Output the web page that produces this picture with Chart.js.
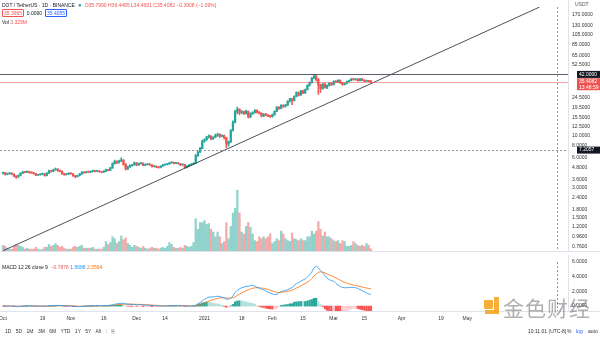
<!DOCTYPE html>
<html><head><meta charset="utf-8">
<script src="https://cdn.jsdelivr.net/npm/chart.js@4.4.1/dist/chart.umd.min.js"></script>
<style>
html,body{margin:0;padding:0;background:#fff;}
body{width:600px;height:337px;overflow:hidden;position:relative;font-family:'Liberation Sans',Arial,sans-serif;color:#131722;}
canvas{position:absolute;left:0;}
.t{position:absolute;white-space:nowrap;font-size:5px;line-height:6px;}
.box{border:0.6px solid;padding:0 1px;border-radius:1px;}
</style></head><body>
<canvas id="c1" width="600" height="259" style="top:0"></canvas>
<canvas id="c2" width="600" height="71" style="top:255px"></canvas>

<div class="t" style="left:2px;top:2px;">DOT / TetherUS · 1D · BINANCE <span style="color:#26a69a;font-size:6px;">&nbsp;●&nbsp;</span> <span style="color:#ef5350">O35.7990 H36.4495 L34.4691 C35.4082 −0.3908 (−1.09%)</span></div>
<div class="t" style="left:2px;top:10px;"><span class="box" style="border-color:#ef5350;color:#ef5350">35.3965</span> <span style="color:#131722">&nbsp;0.0090&nbsp;</span> <span class="box" style="border-color:#2962ff;color:#2962ff">35.4055</span></div>
<div class="t" style="left:2px;top:19px;">Vol <span style="color:#ef5350">3.329M</span></div>
<div class="t" style="left:2px;top:264px;">MACD 12 26 close 9 &nbsp;<span style="color:#ef5350">−0.7876</span> <span style="color:#2196f3">1.5688</span> <span style="color:#ff6d00">2.3564</span></div>
<div class="t" style="left:575px;top:1px;color:#555">USDT</div>

<div class="t" style="left:5px;top:328px;color:#333;word-spacing:3px;">1D 5D 1M 3M 6M YTD 1Y 5Y All <span style="color:#ccc">|</span> <span style="color:#555">⎘</span></div>
<div class="t" style="left:528px;top:328px;color:#333;">10:11:01 (UTC-8)</div>
<div class="t" style="left:567px;top:328px;color:#333;">%</div>
<div class="t" style="left:576px;top:328px;color:#2962ff;">log</div>
<div class="t" style="left:588px;top:328px;color:#333;">auto</div>

<div style="position:absolute;left:484px;top:300px;width:9px;height:9px;background:#f5a623;border-radius:1px;opacity:0.9"></div>
<div style="position:absolute;left:494px;top:297px;width:5px;height:16px;background:#f5a623;opacity:0.9"></div>
<div style="position:absolute;left:485px;top:310px;width:14px;height:4px;background:#f5a623;opacity:0.9"></div>
<div class="t" style="left:503px;top:295px;font-size:21px;line-height:24px;font-family:'Noto Sans CJK SC';color:rgba(110,110,110,0.55);letter-spacing:1px;">金色财经</div>

<script>
// ---- data (Oct 1 2020 .. Mar 18 2021, daily) ----
const startDate = '2020-10-01';
const opens = [4.18,4.25,4.10,4.15,4.20,4.12,3.92,3.85,3.98,4.20,
4.32,4.30,4.35,4.28,4.25,4.18,4.02,4.05,4.10,4.15,
3.98,4.20,4.45,4.38,4.55,4.62,4.45,4.40,4.15,4.08,
4.12,4.20,4.15,3.95,3.88,3.98,4.12,4.30,4.25,4.35,
4.30,4.38,4.45,4.40,4.42,4.35,4.30,4.40,4.55,4.50,
4.75,5.25,5.55,5.40,5.60,5.70,5.20,4.65,4.85,5.05,
5.10,5.35,5.10,5.25,5.30,5.05,5.15,5.20,5.10,4.90,
4.95,4.85,4.80,4.95,5.10,5.15,5.20,5.35,5.40,5.30,
5.35,5.25,5.10,5.15,4.80,4.95,5.10,5.20,5.30,6.30,
6.90,7.50,8.90,9.20,9.80,9.95,9.40,9.70,10.20,10.40,
9.95,10.10,9.60,8.30,8.70,11.40,13.80,17.80,18.60,17.20,
17.60,16.90,17.80,15.60,16.90,17.30,18.20,17.40,17.00,16.00,
16.60,16.30,16.00,15.70,16.40,17.80,19.50,19.00,20.40,19.90,
20.60,22.50,23.80,22.90,25.20,27.50,26.00,28.60,27.20,29.50,
32.50,34.80,38.60,40.50,37.20,32.80,30.20,33.50,31.00,32.50,
34.20,33.00,35.80,35.20,36.60,34.50,33.20,34.00,35.50,36.40,
37.80,37.20,37.60,36.30,37.90,36.80,35.90,36.40,35.80];
const highs = [4.32,4.28,4.22,4.26,4.24,4.15,3.98,4.04,4.26,4.40,
4.38,4.45,4.40,4.34,4.29,4.20,4.10,4.15,4.22,4.18,
4.26,4.52,4.50,4.62,4.75,4.66,4.52,4.44,4.20,4.18,
4.25,4.24,4.17,3.99,4.02,4.18,4.36,4.34,4.40,4.42,
4.44,4.52,4.48,4.48,4.45,4.38,4.46,4.62,4.60,4.82,
5.35,5.70,5.62,5.72,6.02,5.78,5.26,4.95,5.12,5.18,
5.45,5.40,5.32,5.38,5.34,5.22,5.26,5.24,5.13,5.02,
4.98,4.90,5.00,5.16,5.20,5.26,5.42,5.50,5.44,5.40,
5.38,5.28,5.22,5.18,5.02,5.15,5.26,5.38,6.50,7.05,
7.70,9.10,9.40,9.95,10.30,10.10,9.85,10.45,10.70,10.50,
10.30,10.20,9.70,8.90,11.60,14.20,18.20,19.60,18.90,18.10,
17.90,18.30,17.90,17.20,17.60,18.50,18.40,17.70,17.20,16.90,
17.00,16.50,16.20,16.70,18.00,19.90,19.80,20.80,20.70,20.90,
22.80,24.20,24.10,25.50,28.00,27.90,29.00,29.20,29.90,33.00,
35.20,39.20,42.20,41.00,38.20,33.50,34.00,34.20,33.00,34.80,
34.60,36.20,36.40,37.20,37.00,35.00,34.40,35.90,36.80,38.20,
38.40,38.00,37.90,38.30,38.10,37.10,36.80,36.60,36.45];
const lows = [4.12,4.02,4.05,4.10,4.05,3.86,3.72,3.80,3.95,4.15,
4.22,4.26,4.20,4.18,4.10,3.96,3.98,4.01,4.05,3.92,
3.95,4.16,4.30,4.34,4.50,4.38,4.32,4.08,4.00,4.02,
4.08,4.10,3.90,3.78,3.84,3.94,4.08,4.18,4.22,4.24,
4.26,4.34,4.34,4.36,4.30,4.24,4.27,4.36,4.42,4.46,
4.70,5.18,5.25,5.32,5.50,5.05,4.52,4.55,4.80,4.95,
5.06,5.00,5.05,5.18,5.00,5.00,5.10,5.04,4.85,4.86,
4.78,4.72,4.76,4.92,5.04,5.10,5.16,5.30,5.22,5.25,
5.18,5.02,5.05,4.70,4.74,4.90,5.04,5.12,5.25,6.20,
6.80,7.40,8.60,9.00,9.50,9.10,9.20,9.60,9.90,9.70,
9.80,9.30,7.60,7.90,8.60,11.20,13.60,16.80,16.40,16.80,
16.40,16.60,15.20,15.30,16.50,17.00,17.00,16.70,15.60,15.70,
16.00,15.70,15.40,15.50,16.20,17.60,18.60,18.80,19.50,19.60,
20.30,22.00,20.80,22.60,24.80,25.40,25.70,26.80,26.90,29.20,
32.00,34.20,38.00,36.00,26.40,27.60,29.80,30.50,30.20,32.00,
32.40,32.80,34.60,34.90,34.00,32.60,32.80,33.70,35.00,36.00,
36.80,36.60,35.80,36.00,36.40,35.40,35.50,35.40,34.47];
const closes = [4.25,4.10,4.15,4.20,4.12,3.92,3.85,3.98,4.20,4.32,
4.30,4.35,4.28,4.25,4.18,4.02,4.05,4.10,4.15,3.98,
4.20,4.45,4.38,4.55,4.62,4.45,4.40,4.15,4.08,4.12,
4.20,4.15,3.95,3.88,3.98,4.12,4.30,4.25,4.35,4.30,
4.38,4.45,4.40,4.42,4.35,4.30,4.40,4.55,4.50,4.75,
5.25,5.55,5.40,5.60,5.70,5.20,4.65,4.85,5.05,5.10,
5.35,5.10,5.25,5.30,5.05,5.15,5.20,5.10,4.90,4.95,
4.85,4.80,4.95,5.10,5.15,5.20,5.35,5.40,5.30,5.35,
5.25,5.10,5.15,4.80,4.95,5.10,5.20,5.30,6.30,6.90,
7.50,8.90,9.20,9.80,9.95,9.40,9.70,10.20,10.40,9.95,
10.10,9.60,8.30,8.70,11.40,13.80,17.80,18.60,17.20,17.60,
16.90,17.80,15.60,16.90,17.30,18.20,17.40,17.00,16.00,16.60,
16.30,16.00,15.70,16.40,17.80,19.50,19.00,20.40,19.90,20.60,
22.50,23.80,22.90,25.20,27.50,26.00,28.60,27.20,29.50,32.50,
34.80,38.60,40.50,37.20,32.80,30.20,33.50,31.00,32.50,34.20,
33.00,35.80,35.20,36.60,34.50,33.20,34.00,35.50,36.40,37.80,
37.20,37.60,36.30,37.90,36.80,35.90,36.40,35.80,35.41];
const volumesM = [7,6,4,3,3,6,8,7,6,5,
3,4,3,3,3,5,3,2,3,5,
5,8,6,7,9,7,5,6,4,3,
3,3,5,6,5,6,7,4,4,4,
4,5,3,3,3,3,5,11,8,10,
16,14,9,11,17,13,15,9,7,5,
7,6,5,4,6,4,3,4,5,4,
4,3,4,5,4,6,10,8,5,4,
4,5,4,7,6,5,6,10,35,24,
31,31,33,29,30,24,21,16,21,16,
9,11,31,14,27,41,46,65,41,21,
19,27,31,26,19,12,11,16,14,16,
14,16,19,9,11,14,12,22,19,14,
12,11,20,14,13,12,14,12,12,16,
16,22,19,22,32,24,17,21,16,16,
14,12,11,12,9,12,11,6,6,7,
11,9,7,6,7,6,9,7,3.33];
const macdLine = [0.02,0.01,0.00,0.00,-0.01,-0.03,-0.05,-0.05,-0.03,-0.01,
0.01,0.03,0.03,0.03,0.03,0.01,0.00,0.00,0.00,-0.02,
-0.01,0.02,0.04,0.07,0.09,0.09,0.09,0.06,0.03,0.02,
0.01,0.00,-0.03,-0.06,-0.07,-0.06,-0.04,-0.02,0.00,0.01,
0.03,0.05,0.05,0.06,0.06,0.05,0.06,0.08,0.09,0.12,
0.19,0.26,0.30,0.34,0.38,0.37,0.30,0.26,0.24,0.22,
0.22,0.20,0.19,0.18,0.15,0.13,0.12,0.10,0.07,0.05,
0.03,0.01,0.00,0.01,0.02,0.03,0.05,0.07,0.07,0.08,
0.07,0.05,0.05,0.01,0.00,0.00,0.01,0.03,0.12,0.30,
0.48,0.72,0.92,1.10,1.22,1.24,1.25,1.30,1.34,1.30,
1.22,1.10,0.93,0.95,1.10,1.35,1.85,2.15,2.35,2.50,
2.58,2.67,2.70,2.76,2.80,2.75,2.55,2.45,2.32,2.22,
2.05,1.90,1.78,1.65,1.58,1.56,1.80,1.98,2.05,2.15,
2.22,2.40,2.50,2.85,3.05,3.20,3.40,3.55,3.70,3.95,
4.25,4.65,5.15,5.47,5.20,4.85,4.55,4.15,3.80,3.60,
3.45,3.40,3.10,2.85,2.65,2.55,2.50,2.50,2.52,2.55,
2.53,2.50,2.40,2.25,2.10,1.95,1.80,1.68,1.57];
const signalLine = [0.03,0.03,0.02,0.02,0.01,0.01,-0.01,-0.02,-0.02,-0.02,
-0.01,0.00,0.01,0.01,0.02,0.02,0.01,0.01,0.01,0.00,
0.00,0.00,0.01,0.02,0.04,0.05,0.06,0.06,0.05,0.05,
0.04,0.03,0.02,0.00,-0.02,-0.03,-0.03,-0.03,-0.02,-0.02,
-0.01,0.00,0.01,0.02,0.03,0.03,0.04,0.04,0.05,0.06,
0.09,0.12,0.16,0.19,0.23,0.26,0.27,0.27,0.27,0.26,
0.25,0.24,0.23,0.22,0.21,0.19,0.18,0.16,0.14,0.12,
0.10,0.08,0.06,0.05,0.04,0.04,0.04,0.05,0.05,0.06,
0.06,0.06,0.06,0.05,0.04,0.03,0.03,0.02,0.04,0.10,
0.18,0.29,0.42,0.55,0.68,0.79,0.88,0.97,1.04,1.10,
1.13,1.14,1.10,1.07,1.08,1.13,1.27,1.45,1.63,1.80,
1.96,2.10,2.22,2.33,2.42,2.49,2.50,2.49,2.46,2.41,
2.34,2.25,2.16,2.06,1.96,1.88,1.86,1.88,1.91,1.96,
2.01,2.09,2.17,2.31,2.46,2.61,2.77,2.93,3.08,3.25,
3.45,3.75,4.10,4.40,4.60,4.65,4.62,4.52,4.38,4.24,
4.10,3.98,3.84,3.68,3.52,3.37,3.24,3.12,3.02,2.93,
2.85,2.80,2.74,2.67,2.60,2.52,2.46,2.40,2.36];
const macdHist = [-0.01,-0.02,-0.02,-0.02,-0.02,-0.04,-0.04,-0.03,-0.01,0.01,
0.02,0.03,0.02,0.02,0.01,-0.01,-0.01,-0.01,-0.01,-0.02,
-0.01,0.02,0.03,0.05,0.05,0.04,0.03,0.00,-0.02,-0.03,
-0.03,-0.03,-0.05,-0.06,-0.05,-0.03,-0.01,0.01,0.02,0.03,
0.04,0.05,0.04,0.04,0.03,0.02,0.02,0.04,0.04,0.06,
0.10,0.14,0.14,0.15,0.15,0.11,0.03,-0.01,-0.03,-0.04,
-0.03,-0.04,-0.04,-0.04,-0.06,-0.06,-0.06,-0.06,-0.07,-0.07,
-0.07,-0.07,-0.06,-0.04,-0.02,-0.01,0.01,0.02,0.02,0.02,
0.01,-0.01,-0.01,-0.04,-0.04,-0.03,-0.02,0.01,0.08,0.20,
0.30,0.43,0.50,0.55,0.54,0.45,0.37,0.33,0.30,0.20,
0.09,-0.04,-0.17,-0.12,0.02,0.22,0.58,0.70,0.72,0.70,
0.62,0.57,0.48,0.43,0.38,0.26,0.05,-0.04,-0.14,-0.19,
-0.29,-0.35,-0.38,-0.41,-0.38,-0.32,-0.06,0.10,0.14,0.19,
0.21,0.31,0.33,0.54,0.59,0.59,0.63,0.62,0.62,0.70,
0.80,0.90,1.05,1.07,0.60,0.20,-0.07,-0.37,-0.58,-0.64,
-0.65,-0.58,-0.74,-0.83,-0.87,-0.82,-0.74,-0.62,-0.50,-0.38,
-0.32,-0.30,-0.34,-0.42,-0.50,-0.57,-0.66,-0.72,-0.79];
// axis ticks / labels
const timeTickDays = [0,18,31,46,61,74,92,109,123,137,151,165,182,200,212];
const timeTickLabels = ['Oct','19','Nov','16','Dec','14','2021','18','Feb','15','Mar','15','Apr','19','May'];
const priceTicks = [170,130,105,85,65,52.5,24.5,19.5,15.5,12.5,10,8,6,4.8,3.6,3.0,2.4,1.8,1.5,1.2,0.96,0.76];
const macdTicks = [0,2,4,6];
// drawings
const trendLine = [{x:0,y:0.69},{x:245,y:201.6}];
const levelLine = 42;
const lastPrice = 35.4082;
const crossPrice = 7.2;
const crossDay = 253;

// ---- layout constants ----
const X_MIN = -1.37, X_MAX = 258.0;
const FONT = "'Liberation Sans', Arial, sans-serif";
const UP = '#26a69a', DN = '#ef5350';
const isUp = closes.map((c,i)=>c>=opens[i]);
const candleCol = isUp.map(u=>u?UP:DN);
const volCol = isUp.map(u=>u?'rgba(38,166,154,0.5)':'rgba(239,83,80,0.5)');
const histCol = macdHist.map((h,i)=>{const p=i?macdHist[i-1]:0; return h>=0?(h>=p?'#26a69a':'#b2dfdb'):(h<p?'#ff5252':'#ffcdd2');});

function box(ctx,x,y,w,h,bg,lines){
  ctx.save();ctx.fillStyle=bg;ctx.fillRect(x,y,w,h);
  ctx.fillStyle='#fff';ctx.font='5px '+FONT;ctx.textBaseline='middle';ctx.textAlign='left';
  lines.forEach((t,k)=>ctx.fillText(t,x+2,y+3.5+k*5.5));ctx.restore();
}

const drawings = {
  id:'drawings',
  afterDatasetsDraw(ch){
    const c=ch.ctx, y=ch.scales.y, x=ch.scales.x, a=ch.chartArea;
    c.save();
    let py=Math.round(y.getPixelForValue(lastPrice))+0.5;
    c.strokeStyle='rgba(239,83,80,0.55)';c.lineWidth=1;
    c.beginPath();c.moveTo(a.left,py);c.lineTo(a.right,py);c.stroke();
    let ly=Math.round(y.getPixelForValue(levelLine))+0.5;
    c.strokeStyle='#5d606b';c.beginPath();c.moveTo(a.left,ly);c.lineTo(a.right,ly);c.stroke();
    c.setLineDash([2,2]);c.strokeStyle='#9598a1';
    let cy=Math.round(y.getPixelForValue(crossPrice))+0.5;
    c.beginPath();c.moveTo(a.left,cy);c.lineTo(a.right,cy);c.stroke();
    let cx=Math.round(x.getPixelForValue(crossDay))+0.5;
    c.beginPath();c.moveTo(cx,a.top);c.lineTo(cx,a.bottom);c.stroke();
    c.restore();
  },
  afterDraw(ch){
    const c=ch.ctx, y=ch.scales.y, a=ch.chartArea;
    c.save();c.strokeStyle='#e0e3eb';c.lineWidth=1;
    c.beginPath();c.moveTo(a.right+0.5,0);c.lineTo(a.right+0.5,a.bottom);c.stroke();
    c.beginPath();c.moveTo(0,a.bottom-0.5);c.lineTo(600,a.bottom-0.5);c.stroke();
    c.restore();
    box(c,577,y.getPixelForValue(levelLine)-3.5,23,7,'#131722',[levelLine.toFixed(4)]);
    box(c,577,y.getPixelForValue(lastPrice)-3.5,23,12,'#ef5350',[lastPrice.toFixed(4),'13:48:59']);
    box(c,577,y.getPixelForValue(crossPrice)-3.5,23,7,'#131722',['7.2057']);
  }
};

new Chart(document.getElementById('c1'),{
  data:{datasets:[
    {type:'bar',yAxisID:'yv',data:volumesM.map((v,i)=>({x:i,y:v})),backgroundColor:volCol,barThickness:1.6,grouped:false,order:4},
    {type:'bar',yAxisID:'y',data:lows.map((l,i)=>({x:i,y:[l,highs[i]]})),backgroundColor:candleCol,barThickness:0.9,grouped:false,order:3},
    {type:'bar',yAxisID:'y',data:opens.map((o,i)=>({x:i,y:[o,closes[i]]})),backgroundColor:candleCol,barThickness:1.6,minBarLength:0.8,grouped:false,order:2},
    {type:'line',yAxisID:'y',data:trendLine,borderColor:'#3a3d46',borderWidth:0.9,pointRadius:0,order:1}
  ]},
  options:{responsive:false,animation:false,events:[],
    layout:{padding:0},
    plugins:{legend:{display:false},tooltip:{enabled:false}},
    scales:{
      x:{type:'linear',min:X_MIN,max:X_MAX,offset:false,display:false},
      y:{type:'logarithmic',position:'right',min:0.67,max:202,
         afterFit(s){s.width=32;},
         afterBuildTicks(s){s.ticks=priceTicks.map(v=>({value:v}));},
         grid:{display:false,drawTicks:false},border:{display:false},
         ticks:{autoSkip:false,padding:4,color:'#333',font:{size:5,family:FONT},callback:v=>Number(v).toFixed(4)}},
      yv:{type:'linear',display:false,min:0,max:258}
    }},
  plugins:[drawings]
});

const macdDraw = {
  id:'macdDraw',
  afterDraw(ch){
    const c=ch.ctx,a=ch.chartArea,x=ch.scales.x;
    c.save();c.strokeStyle='#e0e3eb';c.lineWidth=1;
    c.beginPath();c.moveTo(a.right+0.5,0);c.lineTo(a.right+0.5,a.bottom);c.stroke();
    c.beginPath();c.moveTo(0,a.bottom+0.5);c.lineTo(600,a.bottom+0.5);c.stroke();
    c.setLineDash([2,2]);c.strokeStyle='#9598a1';
    let cx=Math.round(x.getPixelForValue(crossDay))+0.5;
    c.beginPath();c.moveTo(cx,a.top);c.lineTo(cx,a.bottom);c.stroke();
    c.restore();
  }
};

new Chart(document.getElementById('c2'),{
  data:{datasets:[
    {type:'bar',data:macdHist.map((v,i)=>({x:i,y:v})),backgroundColor:histCol,barThickness:1.6,grouped:false,order:3},
    {type:'line',data:macdLine.map((v,i)=>({x:i,y:v})),borderColor:'#2196f3',borderWidth:0.8,pointRadius:0,order:1},
    {type:'line',data:signalLine.map((v,i)=>({x:i,y:v})),borderColor:'#ff6d00',borderWidth:0.8,pointRadius:0,order:2}
  ]},
  options:{responsive:false,animation:false,events:[],
    layout:{padding:{top:5,left:0,right:0}},
    plugins:{legend:{display:false},tooltip:{enabled:false}},
    scales:{
      x:{type:'linear',min:X_MIN,max:X_MAX,offset:false,
         afterFit(s){s.height=15;s.paddingLeft=0;s.paddingRight=0;},
         afterBuildTicks(s){s.ticks=timeTickDays.map(v=>({value:v}));},
         grid:{display:false,drawTicks:false},border:{display:false},
         ticks:{autoSkip:false,maxRotation:0,padding:4.5,color:'#333',font:{size:5,family:FONT},
           callback:(v)=>{const k=timeTickDays.indexOf(v);return k>=0?timeTickLabels[k]:'';}}},
      y:{type:'linear',position:'right',min:-0.667,max:6.0,
         afterFit(s){s.width=32;},
         afterBuildTicks(s){s.ticks=macdTicks.map(v=>({value:v}));},
         grid:{display:false,drawTicks:false},border:{display:false},
         ticks:{autoSkip:false,padding:4,color:'#333',font:{size:5,family:FONT},callback:v=>Number(v).toFixed(4)}}
    }},
  plugins:[macdDraw]
});
</script>
</body></html>
